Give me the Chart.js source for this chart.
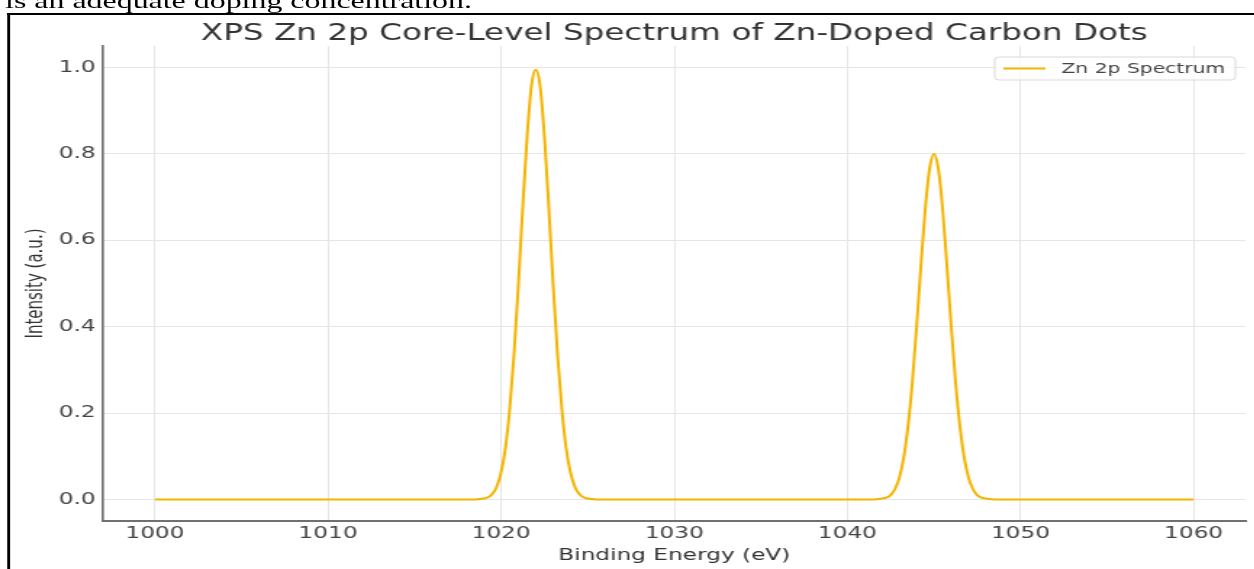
<!DOCTYPE html>
<html>
<head>
<meta charset="utf-8">
<script src="https://cdn.jsdelivr.net/npm/chart.js@4.4.1/dist/chart.umd.min.js"></script>
<style>
  html, body { margin: 0; padding: 0; background: #fff; overflow: hidden; }
  /* the source screenshot is stretched sideways, so the whole page is too */
  #page { position: absolute; left: 0; top: 0; width: 865px; height: 569px; transform: scaleX(1.45); transform-origin: 0 0; }
  #caption { position: absolute; left: 3.5px; top: -10.4px; font: 22px/22px "Liberation Serif", "Times New Roman", serif; color: #000; white-space: nowrap; }
  #frame { position: absolute; left: 5px; top: 13.3px; width: 900px; height: 600px; border-left: 2px solid #000; border-top: 2.7px solid #000; }
  #chart { position: absolute; left: 7px; top: 16px; }
</style>
</head>
<body>
<div id="page">
  <div id="caption">is an adequate doping concentration.</div>
  <div id="frame"></div>
  <canvas id="chart" width="858" height="553"></canvas>
</div>
<script>
// XPS Zn 2p DATA
const bindingEnergy = [
  1000, 1005, 1010, 1015, 1018.5,
  1019, 1019.25, 1019.5, 1019.75, 1020, 1020.25, 1020.5, 1020.75, 1021, 1021.25, 1021.5, 1021.75,
  1022, 1022.25, 1022.5, 1022.75, 1023, 1023.25, 1023.5, 1023.75, 1024, 1024.25, 1024.5, 1024.75, 1025,
  1025.5, 1030, 1035, 1041.5,
  1042, 1042.25, 1042.5, 1042.75, 1043, 1043.25, 1043.5, 1043.75, 1044, 1044.25, 1044.5, 1044.75,
  1045, 1045.25, 1045.5, 1045.75, 1046, 1046.25, 1046.5, 1046.75, 1047, 1047.25, 1047.5, 1047.75, 1048,
  1048.5, 1052, 1056, 1060
];
const intensity = [
  0, 0, 0, 0, 0,
  0.002, 0.005, 0.013, 0.030, 0.063, 0.120, 0.211, 0.339, 0.500, 0.678, 0.841, 0.958,
  0.995, 0.958, 0.841, 0.678, 0.500, 0.339, 0.211, 0.120, 0.063, 0.030, 0.013, 0.005, 0.002,
  0, 0, 0, 0,
  0.002, 0.004, 0.010, 0.024, 0.050, 0.096, 0.169, 0.271, 0.400, 0.542, 0.673, 0.766,
  0.800, 0.766, 0.673, 0.542, 0.400, 0.271, 0.169, 0.096, 0.050, 0.024, 0.010, 0.004, 0.002,
  0, 0, 0, 0
];
const xTicks = [1000, 1010, 1020, 1030, 1040, 1050, 1060];
const yTicks = [0.0, 0.2, 0.4, 0.6, 0.8, 1.0];
const seriesLabel = "Zn 2p Spectrum";

const FONT = "'DejaVu Sans', sans-serif";

// legend in a box, top right inside the plot
const boxLegend = {
  id: "boxLegend",
  afterDraw(chart) {
    const { ctx, chartArea } = chart;
    const ds = chart.data.datasets[0];
    ctx.save();
    ctx.font = "14px " + FONT;
    const textW = ctx.measureText(ds.label).width;
    const w = 6 + 29 + 11 + textW + 7;
    const h = 23;
    const x = chartArea.right - 7 - w;
    const y = chartArea.top + 11;
    ctx.fillStyle = "rgba(255,255,255,0.8)";
    ctx.strokeStyle = "#d9d9d9";
    ctx.lineWidth = 1;
    ctx.beginPath();
    ctx.roundRect(x, y, w, h, 3);
    ctx.fill();
    ctx.stroke();
    ctx.strokeStyle = ds.borderColor;
    ctx.lineWidth = 2;
    ctx.beginPath();
    ctx.moveTo(x + 6, y + h / 2);
    ctx.lineTo(x + 35, y + h / 2);
    ctx.stroke();
    ctx.fillStyle = "#444";
    ctx.textBaseline = "middle";
    ctx.fillText(ds.label, x + 46, y + h / 2 + 0.5);
    ctx.restore();
  },
};

const ctx = document.getElementById("chart").getContext("2d");

const spectrumChart = new Chart(ctx, {
  type: "line",
  data: {
    datasets: [
      {
        label: seriesLabel,
        data: bindingEnergy.map((e, i) => ({ x: e, y: intensity[i] })),
        borderColor: "#f5b400",
        borderWidth: 2,
        pointRadius: 0,
        fill: false,
        cubicInterpolationMode: "monotone",
      },
    ],
  },
  options: {
    responsive: false,
    animation: false,
    devicePixelRatio: 1,
    layout: { padding: { top: 0, right: 6, bottom: 0, left: 0 } },
    plugins: {
      legend: { display: false },
      tooltip: { enabled: false },
      title: {
        display: true,
        fullSize: false,
        text: "XPS Zn 2p Core-Level Spectrum of Zn-Doped Carbon Dots",
        color: "#333",
        font: { family: FONT, size: 22.5, weight: "normal" },
        padding: { top: 5, bottom: -2 },
      },
    },
    scales: {
      x: {
        type: "linear",
        min: 997,
        max: 1063,
        afterBuildTicks: (s) => { s.ticks = xTicks.map((v) => ({ value: v })); },
        afterFit: (s) => { s.height = 48; },
        grid: { color: "#e6e6e6", lineWidth: 1, drawTicks: false },
        border: { color: "#707070", width: 2 },
        ticks: {
          padding: 3,
          color: "#444",
          maxRotation: 0,
          autoSkip: false,
          font: { family: FONT, size: 16 },
          callback: (v) => String(v),
        },
        title: {
          display: true,
          text: "Binding Energy (eV)",
          color: "#333",
          font: { family: FONT, size: 16 },
          padding: { top: 0, bottom: 4 },
        },
      },
      y: {
        min: -0.05,
        max: 1.05,
        afterBuildTicks: (s) => { s.ticks = yTicks.map((v) => ({ value: v })); },
        afterFit: (s) => { s.width = 64; },
        grid: { color: "#e6e6e6", lineWidth: 1, drawTicks: false },
        border: { color: "#707070", width: 1.7 },
        ticks: {
          padding: 5,
          color: "#444",
          font: { family: FONT, size: 16 },
          callback: (v) => v.toFixed(1),
        },
        title: {
          display: true,
          text: "Intensity (a.u.)",
          color: "#333",
          font: { family: FONT, size: 15 },
          padding: { top: 9, bottom: 0 },
        },
      },
    },
  },
  plugins: [boxLegend],
});
</script>
</body>
</html>
